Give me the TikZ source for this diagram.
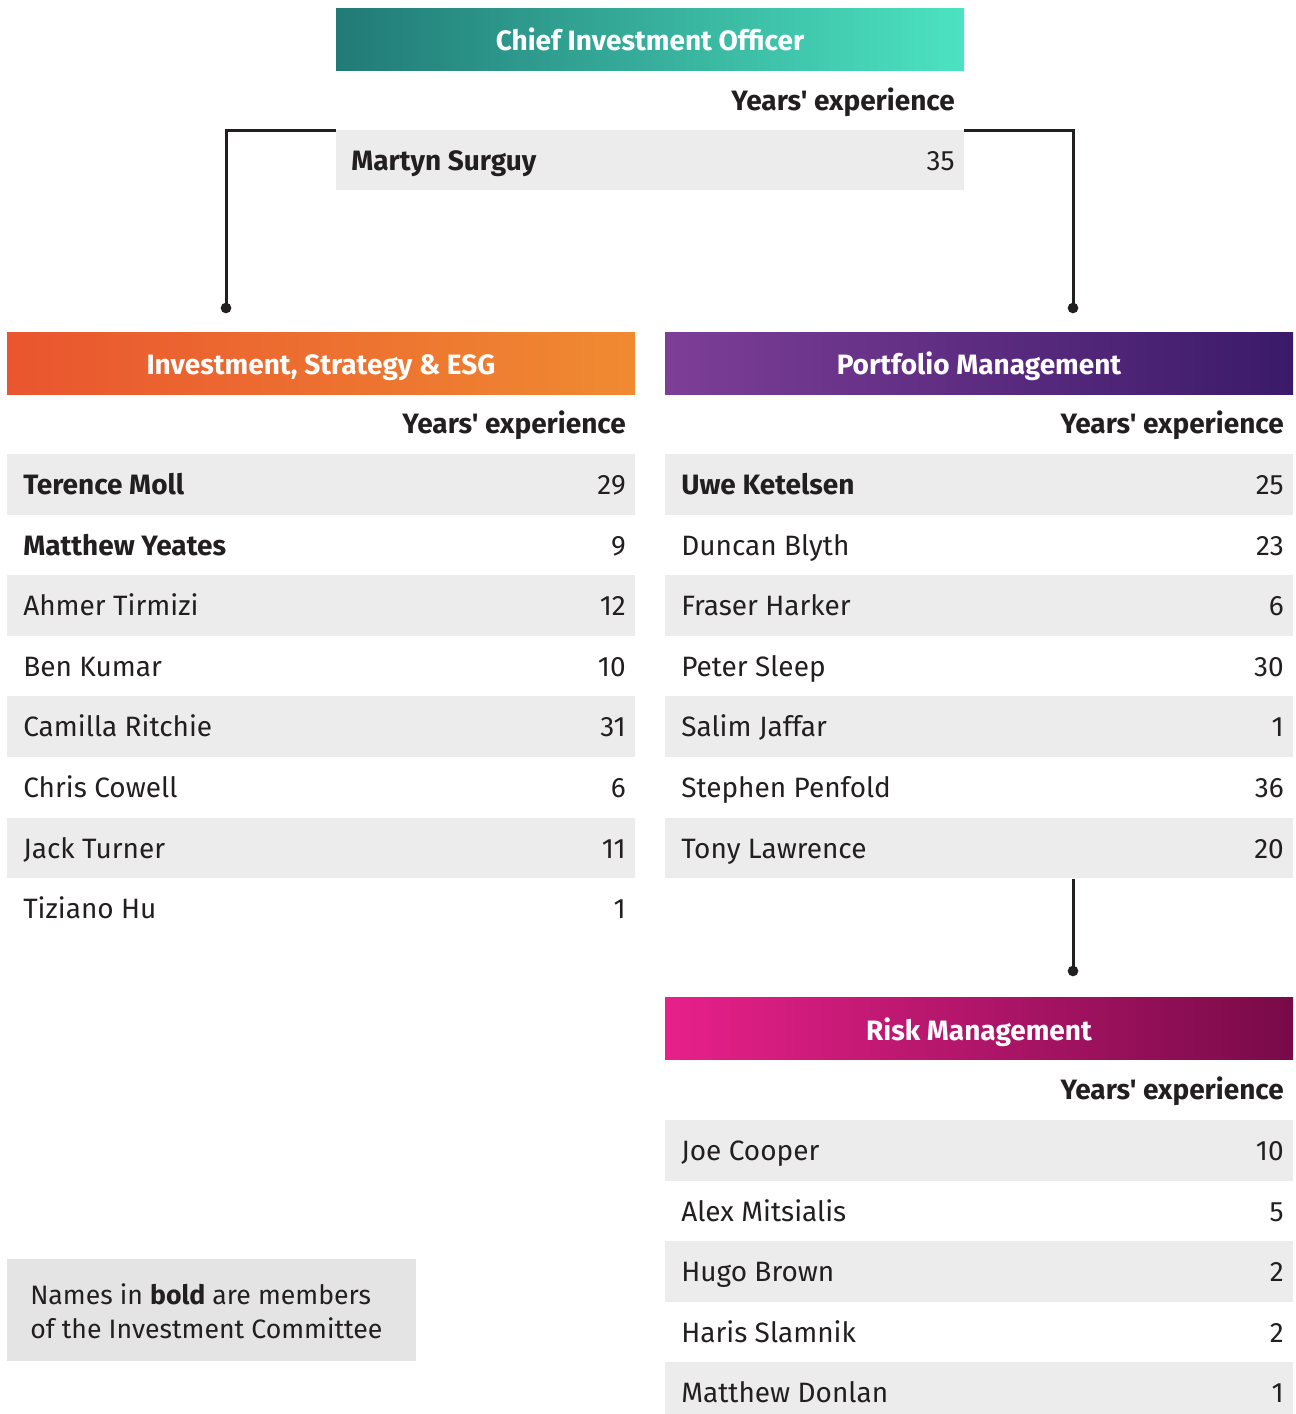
\documentclass[tikz,border=0pt]{standalone}
\usepackage{fontspec}
\setmainfont{Fira Sans}[Ligatures=TeXOff]
\setsansfont{Fira Sans}[Ligatures=TeXOff]
\definecolor{ink}{HTML}{231F20}
\definecolor{rowbg}{HTML}{ECECEC}
\definecolor{notebg}{HTML}{E4E4E4}
\definecolor{tealA}{HTML}{217A76}
\definecolor{tealB}{HTML}{4CE3C1}
\definecolor{orA}{HTML}{E9552F}
\definecolor{orB}{HTML}{F08A31}
\definecolor{puA}{HTML}{7D3E97}
\definecolor{puB}{HTML}{3B1A6A}
\definecolor{mgA}{HTML}{E8208A}
\definecolor{mgB}{HTML}{780A48}
\newcommand\fnorm{\fontsize{21}{25}\selectfont}
\newcommand\fnote{\fontsize{20}{24}\selectfont}
\newcommand\fhead{\fontsize{21}{25}\selectfont\bfseries}
\tikzset{
  hdr/.style={minimum width=471pt, minimum height=46.5pt, inner sep=0pt, text=white, font=\fhead, text height=17.5pt, text depth=0pt},
  rowbox/.style={minimum width=471pt, minimum height=45.5pt, inner sep=0pt, fill=rowbg},
  nm/.style={anchor=base west, inner sep=0pt, text=ink, font=\fnorm},
  nv/.style={anchor=base east, inner sep=0pt, text=ink, font=\fnorm},
  yexp/.style={anchor=base east, inner sep=0pt, text=ink, font=\fnorm\bfseries},
  conn/.style={draw=ink, line width=2.25pt},
  dotnode/.style={circle, fill=ink, inner sep=0pt, minimum size=8pt},
}
\begin{document}
\begin{tikzpicture}[x=0.75pt,y=-0.75pt]
\useasboundingbox (0,0) rectangle (1296,1414);

% CIO
\node[hdr, left color=tealA, right color=tealB] (cioH) at (650,39) {Chief Investment Officer};
\node[yexp] (cioY) at (955,110.5) {Years' experience};
\node[rowbox, minimum height=45pt] (cioRow) at (650,160) {};
\node[nm, font=\fnorm\bfseries] (cioN) at (351,170) {Martyn Surguy};
\node[nv] (cioV) at (955,170) {35};

% dots
\node[dotnode] (dL) at (226,308) {};
\node[dotnode] (dR) at (1073,308) {};
\node[dotnode] (dK) at (1073,971) {};

% Investment, Strategy & ESG
\node[hdr, left color=orA, right color=orB] (isH) at (321,363) {Investment, Strategy \& ESG};
\node[yexp] (isY) at (626,433.5) {Years' experience};
\foreach \nme/\yr [count=\i] in {{\textbf{Terence Moll}}/29,{\textbf{Matthew Yeates}}/9,Ahmer Tirmizi/12,Ben Kumar/10,Camilla Ritchie/31,Chris Cowell/6,Jack Turner/11,Tiziano Hu/1}{
  \pgfmathsetmacro\yt{454+60.6*(\i-1)}
  \ifodd\i\relax \node[rowbox] (isr\i) at (321,\yt+30.3) {}; \fi
  \node[nm] (isn\i) at (23,\yt+40.5) {\nme};
  \node[nv] (isv\i) at (626,\yt+40.5) {\yr};
}

% Portfolio Management
\node[hdr, left color=puA, right color=puB] (pmH) at (979,363) {Portfolio Management};
\node[yexp] (pmY) at (1284,433.5) {Years' experience};
\foreach \nme/\yr [count=\i] in {{\textbf{Uwe Ketelsen}}/25,Duncan Blyth/23,Fraser Harker/6,Peter Sleep/30,Salim Jaffar/1,Stephen Penfold/36,Tony Lawrence/20}{
  \pgfmathsetmacro\yt{454+60.6*(\i-1)}
  \ifodd\i\relax \node[rowbox] (pmr\i) at (979,\yt+30.3) {}; \fi
  \node[nm] (pmn\i) at (681,\yt+40.5) {\nme};
  \node[nv] (pmv\i) at (1284,\yt+40.5) {\yr};
}

% Risk Management
\node[hdr, left color=mgA, right color=mgB] (rmH) at (979,1028.5) {Risk Management};
\node[yexp] (rmY) at (1284,1099.5) {Years' experience};
\foreach \nme/\yr [count=\i] in {Joe Cooper/10,Alex Mitsialis/5,Hugo Brown/2,Haris Slamnik/2,Matthew Donlan/1}{
  \pgfmathsetmacro\yt{1120+60.6*(\i-1)}
  \ifodd\i\relax \node[rowbox] (rmr\i) at (979,\yt+30.3) {}; \fi
  \node[nm] (rmn\i) at (681,\yt+40.5) {\nme};
  \node[nv] (rmv\i) at (1284,\yt+40.5) {\yr};
}

% connectors
\draw[conn] ([yshift=-0.75pt]cioRow.north west) -| (dL.center);
\draw[conn] ([yshift=-0.75pt]cioRow.north east) -| (dR.center);
\draw[conn] (pmr7.south -| dK) -- (dK.center);

% note
\node[fill=notebg, minimum width=306.75pt, minimum height=76.5pt, inner sep=0pt] (noteBox) at (211.5,1310) {};
\node[nm, font=\fnote] (note1) at (30,1304) {Names in \textbf{bold} are members};
\node[nm, font=\fnote] (note2) at (30,1338) {of the Investment Committee};
\end{tikzpicture}
\end{document}
